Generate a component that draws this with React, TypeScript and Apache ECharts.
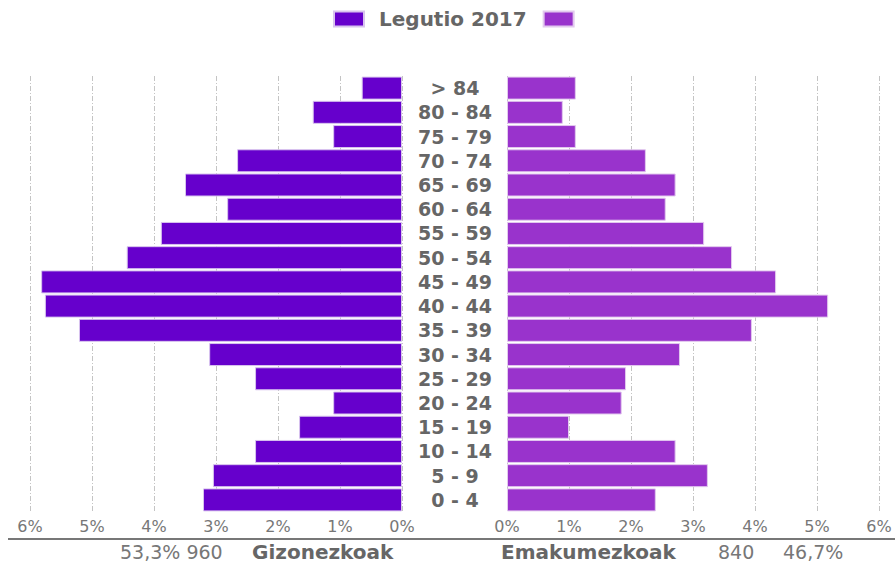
import React, { useEffect, useRef } from "react";
import * as echarts from "echarts";

const categories = [
  "0 - 4", "5 - 9", "10 - 14", "15 - 19", "20 - 24", "25 - 29", "30 - 34", "35 - 39", "40 - 44",
  "45 - 49", "50 - 54", "55 - 59", "60 - 64", "65 - 69", "70 - 74", "75 - 79", "80 - 84", "> 84",
];
const menValues = [3.21, 3.05, 2.37, 1.66, 1.11, 2.37, 3.11, 5.21, 5.76, 5.82, 4.44, 3.89, 2.82, 3.5, 2.66, 1.11, 1.44, 0.65];
const womenValues = [2.4, 3.24, 2.72, 1.0, 1.85, 1.92, 2.79, 3.95, 5.18, 4.34, 3.63, 3.18, 2.56, 2.72, 2.24, 1.11, 0.9, 1.11];
const menName = "Legutio 2017";
const womenName = "Emakumezkoak";
const menLabel = "Gizonezkoak";
const womenLabel = "Emakumezkoak";
const menTotal = "53,3% 960";
const womenCount = "840";
const womenPct = "46,7%";

const FONT = "DejaVu Sans";

export default function App() {
  const ref = useRef<HTMLDivElement>(null);
  useEffect(() => {
    document.body.style.margin = "0";
    const chart = echarts.init(ref.current!, null, { renderer: "svg" });
    const splitLine = { show: true, lineStyle: { color: "#c4c4c4", type: [5, 2, 1, 2], width: 1 } };
    const xLabel = { color: "#777", fontSize: 16, fontFamily: FONT, margin: 6, formatter: "{value}%" };
    chart.setOption({
      animation: false,
      legend: {
        left: 333,
        top: 7,
        padding: 0,
        itemWidth: 30,
        itemHeight: 15,
        itemGap: 16,
        icon: "rect",
        data: [menName, womenName],
        formatter: (n: string) => (n === menName ? n : ""),
        textStyle: { color: "#666", fontSize: 20, fontWeight: "bold", fontFamily: FONT, padding: [0, 0, 0, 10], lineHeight: 24 },
      },
      grid: [
        { left: 30, right: 493, top: 76, bottom: 54 },
        { left: 507, right: 16, top: 76, bottom: 54 },
      ],
      xAxis: [
        {
          type: "value", gridIndex: 0, inverse: true, min: 0, max: 6, interval: 1,
          axisLine: { show: false }, axisTick: { show: false }, axisLabel: xLabel, splitLine,
        },
        {
          type: "value", gridIndex: 1, min: 0, max: 6, interval: 1,
          axisLine: { show: false }, axisTick: { show: false }, axisLabel: xLabel, splitLine,
        },
      ],
      yAxis: [
        {
          type: "category", gridIndex: 0, position: "right", data: categories,
          axisLine: { show: false }, axisTick: { show: false },
          axisLabel: { interval: 0, margin: 53, align: "center", color: "#666", fontSize: 19, fontWeight: "bold", fontFamily: FONT },
        },
        {
          type: "category", gridIndex: 1, data: categories,
          axisLine: { show: false }, axisTick: { show: false }, axisLabel: { show: false },
        },
      ],
      series: [
        {
          name: menName, type: "bar", xAxisIndex: 0, yAxisIndex: 0, data: menValues, barWidth: "95%",
          itemStyle: { color: "#6600cc", borderColor: "#d8c4ee", borderWidth: 1 },
        },
        {
          name: womenName, type: "bar", xAxisIndex: 1, yAxisIndex: 1, data: womenValues, barWidth: "95%",
          itemStyle: { color: "#9933cc", borderColor: "#e2c9ee", borderWidth: 1 },
        },
      ],
      graphic: [
        { type: "line", shape: { x1: 8, y1: 539, x2: 895, y2: 539 }, style: { stroke: "#777", lineWidth: 2 } },
        { type: "text", x: 120, y: 552, style: { text: menTotal, fill: "#777", font: `19px '${FONT}'`, verticalAlign: "middle" } },
        { type: "text", x: 252, y: 552, style: { text: menLabel, fill: "#666", font: `bold 20px '${FONT}'`, verticalAlign: "middle" } },
        { type: "text", x: 501, y: 552, style: { text: womenLabel, fill: "#666", font: `bold 20px '${FONT}'`, verticalAlign: "middle" } },
        { type: "text", x: 718, y: 552, style: { text: womenCount, fill: "#777", font: `19px '${FONT}'`, verticalAlign: "middle" } },
        { type: "text", x: 783, y: 552, style: { text: womenPct, fill: "#777", font: `19px '${FONT}'`, verticalAlign: "middle" } },
      ],
    });
    return () => chart.dispose();
  }, []);
  return <div ref={ref} style={{ position: "absolute", left: 0, top: 0, width: 895, height: 566 }} />;
}
